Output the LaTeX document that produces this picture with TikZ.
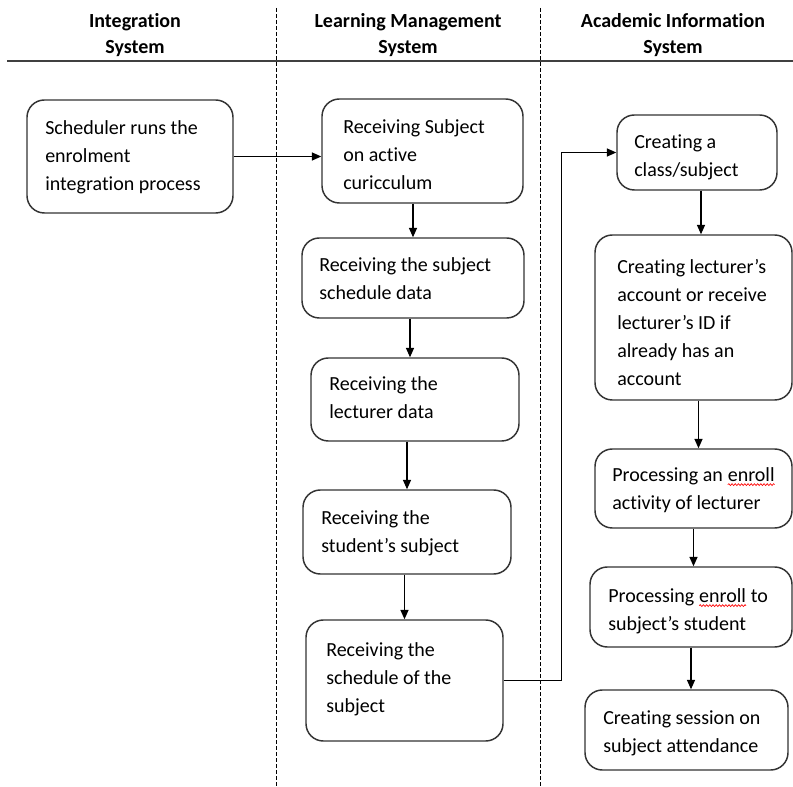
\documentclass[tikz,border=0pt]{standalone}
\usepackage{fontspec}
\setmainfont[Ligatures=NoCommon]{Carlito}
\usetikzlibrary{arrows.meta,fit,calc,decorations.pathmorphing}
% red wavy underline, as a spell checker marks a word
\newcommand\spellwave[1]{\tikz[baseline=(sw.base),x=1cm,y=1cm]{\node[inner sep=0pt,outer sep=0pt] (sw) {#1};
  \draw[red, line width=0.5pt, decorate, decoration={snake,amplitude=0.7pt,segment length=2.4pt}]
    ([yshift=-2.6pt]sw.base west) -- ([yshift=-2.6pt]sw.base east);}}
\begin{document}
\begin{tikzpicture}[x=0.75pt,y=-0.75pt,
  box/.style={draw=black!80, line width=1.1pt, rounded corners=13pt, inner sep=0pt},
  txt/.style={anchor=north west, inner sep=0pt, align=left, font=\fontsize{15}{21}\selectfont},
  head/.style={align=center, inner sep=0pt, font=\bfseries\fontsize{15}{19.5}\selectfont},
  flow/.style={line width=0.9pt, -{Triangle[length=7pt,width=6pt]}},
  lane/.style={dash pattern=on 3pt off 1.5pt, line width=0.6pt}]
\useasboundingbox (0,0) rectangle (793,787);

% column headings
\node[head] (h1) at (135,35) {Integration\\System};
\node[head] (h2) at (408,35) {Learning Management\\System};
\node[head] (h3) at (673,35) {Academic Information\\System};
\draw[line width=1.4pt, black!75] (7,61) -- (793,61);

% swimlane separators
\draw[lane] (276,8) -- (276,787);
\draw[lane] (540,8) -- (540,787);

% Integration System
\node[box, fit={(27,100) (233,213)}] (b1) {};
\node[txt] (t1) at (45,120) {Scheduler runs the\\enrolment\\integration process};

% Learning Management System
\node[box, fit={(322,99) (523,203)}] (b2) {};
\node[txt] (t2) at (343,119) {Receiving Subject\\on active\\curicculum};
\node[box, fit={(302,238) (524,318)}] (b3) {};
\node[txt] (t3) at (319,257) {Receiving the subject\\schedule data};
\node[box, fit={(311,358) (519,441)}] (b4) {};
\node[txt] (t4) at (329,376) {Receiving the\\lecturer data};
\node[box, fit={(303,490) (511,574)}] (b5) {};
\node[txt] (t5) at (321,510) {Receiving the\\student’s subject};
\node[box, fit={(306,620) (503,741)}] (b6) {};
\node[txt] (t6) at (326,642) {Receiving the\\schedule of the\\subject};

% Academic Information System
\node[box, fit={(617,115) (777,190)}] (b7) {};
\node[txt] (t7) at (634,134) {Creating a\\class/subject};
\node[box, fit={(595,235) (792,400)}] (b8) {};
\node[txt] (t8) at (617,259) {Creating lecturer’s\\account or receive\\lecturer’s ID if\\already has an\\account};
\node[box, fit={(595,449) (792,528)}] (b9) {};
\node[txt] (t9) at (612,467) {Processing an \spellwave{enroll}\\activity of lecturer};
\node[box, fit={(590,567) (792,647)}] (b10) {};
\node[txt] (t10) at (608,588) {Processing \spellwave{enroll} to\\subject’s student};
\node[box, fit={(585,690) (788,770)}] (b11) {};
\node[txt] (t11) at (603,710) {Creating session on\\subject attendance};

% flow
\coordinate (a34) at ($(b3.south)+(-3,0)$);
\coordinate (a78) at ($(b7.south)+(4,0)$);
\coordinate (a89) at ($(b8.south)+(5,0)$);

\draw[flow] (b1.east) -- (b1.east -| b2.west);
\draw[flow] (b3.north |- b2.south) -- (b3.north);
\draw[flow] (a34) -- (a34 |- b4.north);
\draw[flow] (b5.north |- b4.south) -- (b5.north);
\draw[flow] (b6.north |- b5.south) -- (b6.north);
\draw[flow] (b6.east) -- ++(58,0) |- (b7.west);
\draw[flow] (a78) -- (a78 |- b8.north);
\draw[flow] (a89) -- (a89 |- b9.north);
\draw[flow] (b9.south) -- (b9.south |- b10.north);
\draw[flow] (b10.south) -- (b10.south |- b11.north);
\end{tikzpicture}
\end{document}
